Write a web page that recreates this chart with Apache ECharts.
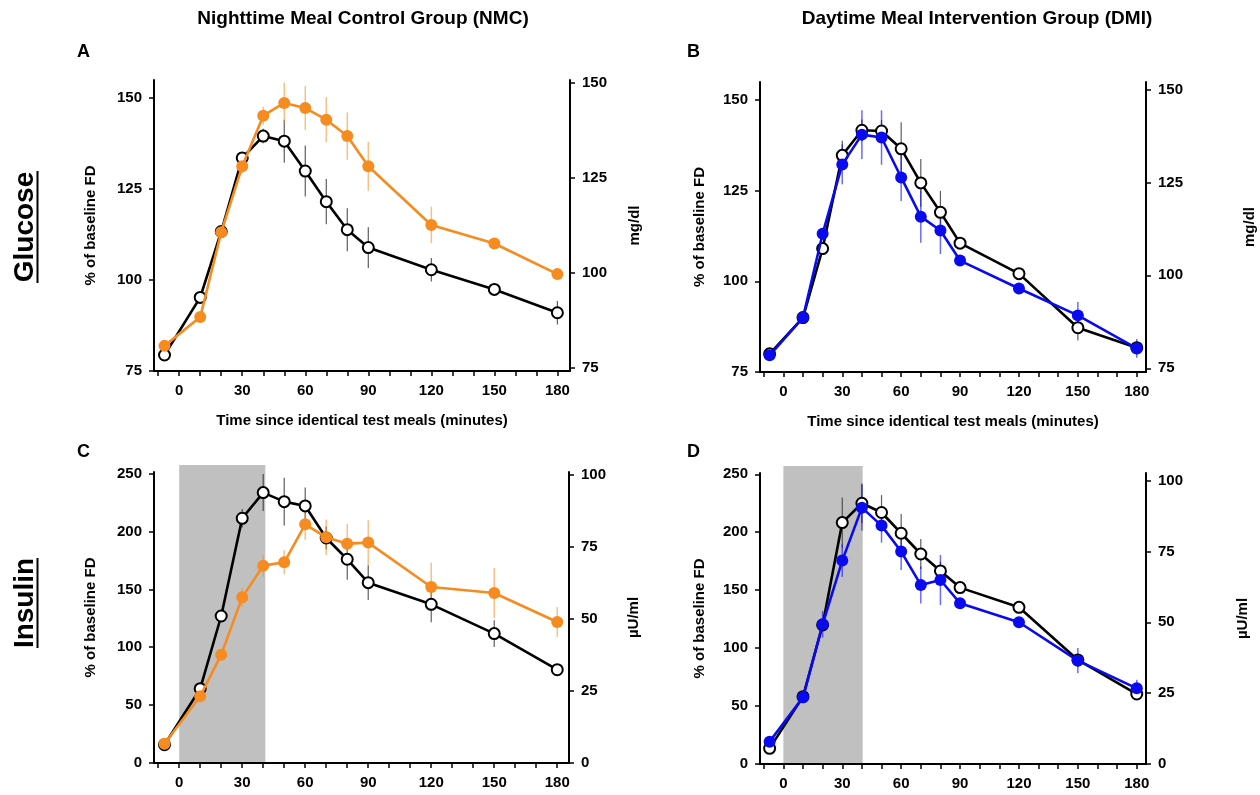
<!DOCTYPE html>
<html>
<head>
<meta charset="utf-8">
<title>Glucose and insulin responses</title>
<script src="https://cdn.jsdelivr.net/npm/echarts@6/dist/echarts.min.js"></script>
<style>
  html, body { margin: 0; padding: 0; background: #fff; }
  #chart { width: 1260px; height: 795px; }
</style>
</head>
<body>
<div id="chart"></div>
<script>
// Sampling times (minutes since the identical test meals)
const times = [-7, 10, 20, 30, 40, 50, 60, 70, 80, 90, 120, 150, 180];

// Axis tick values
const xTickValues = [-10, 0, 10, 20, 30, 40, 50, 60, 70, 80, 90, 100, 110, 120, 130, 140, 150, 160, 170, 180];
const xLabelValues = [0, 30, 60, 90, 120, 150, 180];
const glucosePctTicks = [75, 100, 125, 150];
const glucoseMgTicks = [75, 100, 125, 150];
const insulinPctTicks = [0, 50, 100, 150, 200, 250];
const insulinUTicks = [0, 25, 50, 75, 100];

// Panel A: glucose, nighttime meal control group (% of baseline FD)
const nmcGlucoseBlack = [79.4, 95.2, 113.3, 133.5, 139.5, 138.1, 129.9, 121.5, 113.8, 108.9, 102.8, 97.4, 91.0];
const nmcGlucoseBlackErr = [0.5, 1.5, 1.5, 1.5, 2.0, 5.9, 7.0, 6.2, 5.9, 5.6, 3.2, 1.2, 3.2];
const nmcGlucoseOrange = [81.9, 89.8, 113.1, 131.2, 145.1, 148.6, 147.2, 144.0, 139.5, 131.2, 115.1, 110.0, 101.6];
const nmcGlucoseOrangeErr = [0.5, 1.0, 1.5, 2.0, 2.5, 5.6, 6.0, 6.2, 6.5, 6.7, 5.0, 1.5, 1.7];

// Panel B: glucose, daytime meal intervention group
const dmiGlucoseBlack = [80.0, 90.0, 109.0, 134.7, 141.6, 141.4, 136.5, 127.1, 119.0, 110.5, 102.1, 87.2, 81.7];
const dmiGlucoseBlackErr = [0.5, 0.5, 1.0, 4.0, 3.0, 3.0, 7.3, 6.6, 5.9, 1.5, 1.5, 3.5, 1.5];
const dmiGlucoseBlue = [79.6, 90.0, 113.1, 132.2, 140.4, 139.6, 128.6, 117.8, 114.0, 105.7, 98.0, 90.6, 81.5];
const dmiGlucoseBlueErr = [0.5, 0.5, 1.5, 5.5, 6.7, 7.5, 6.5, 7.2, 6.5, 1.5, 1.5, 3.7, 2.6];

// Panel C: insulin, nighttime meal control group
const nmcInsulinBlack = [15.8, 64.2, 127.0, 211.4, 233.6, 225.8, 222.1, 194.4, 176.0, 155.8, 137.1, 111.8, 80.6];
const nmcInsulinBlackErr = [2, 4, 5, 8, 16, 20.6, 16, 10, 17.6, 15, 15.6, 11.5, 3];
const nmcInsulinOrange = [16.7, 57.6, 93.6, 143.1, 170.5, 173.4, 206.2, 195.0, 189.5, 190.4, 152.1, 146.9, 121.8];
const nmcInsulinOrangeErr = [2, 3, 5, 8, 9.4, 10.4, 13.3, 15.4, 17, 19.4, 21, 21.6, 13];

// Panel D: insulin, daytime meal intervention group
const dmiInsulinBlack = [13.5, 58.1, 120.0, 208.3, 225.0, 217.0, 199.1, 181.2, 166.6, 152.2, 135.2, 89.8, 60.4];
const dmiInsulinBlackErr = [2, 3, 5, 21.6, 17, 15, 16.7, 13, 8, 4, 4, 4, 3];
const dmiInsulinBlue = [19.3, 57.5, 120.5, 175.5, 221.2, 205.7, 183.3, 154.5, 158.8, 138.7, 122.3, 89.2, 65.3];
const dmiInsulinBlueErr = [3, 3, 11.5, 14, 20, 14.7, 16, 16, 21.6, 4, 3, 10.8, 7.5];

// Meal window shading (start, end in minutes)
const mealWindowNMC = [0, 41];
const mealWindowDMI = [0, 40.4];

const FONT = 'Arial, "Liberation Sans", sans-serif';
const ORANGE = '#F68B1F';
const BLUE = '#0A0AF0';

const chart = echarts.init(document.getElementById('chart'), null, { renderer: 'canvas' });

const panels = [
  { grid: { left: 154, top: 80, width: 416, height: 291 }, x: [-12, 186],
    yL: [75, 154.9], yR: [74.2, 150.8], ticksL: glucosePctTicks, ticksR: glucoseMgTicks,
    rightName: 'mg/dl', leftGap: 56, rightGap: 57, xName: true },
  { grid: { left: 760, top: 82, width: 386, height: 290 }, x: [-11.9, 184.7],
    yL: [75, 154.9], yR: [74.0, 152.0], ticksL: glucosePctTicks, ticksR: glucoseMgTicks,
    rightName: 'mg/dl', leftGap: 53, rightGap: 96, xName: true },
  { grid: { left: 154, top: 472, width: 415, height: 291 }, x: [-12, 185.6],
    yL: [0, 251.4], yR: [0, 101], ticksL: insulinPctTicks, ticksR: insulinUTicks,
    rightName: 'µU/ml', leftGap: 56, rightGap: 57, xName: false },
  { grid: { left: 760, top: 473, width: 386, height: 291 }, x: [-11.9, 184.7],
    yL: [0, 251.1], yR: [0, 102.7], ticksL: insulinPctTicks, ticksR: insulinUTicks,
    rightName: 'µU/ml', leftGap: 53, rightGap: 89, xName: false }
];

const labelStyle = { color: '#000', fontWeight: 'bold', fontSize: 15, fontFamily: FONT };
const nameStyle = { color: '#000', fontWeight: 'bold', fontSize: 15, fontFamily: FONT };

const grids = [], xAxes = [], yAxes = [], series = [];

panels.forEach((p, i) => {
  grids.push(Object.assign({ outerBoundsMode: 'none', containLabel: false }, p.grid));
  xAxes.push({
    type: 'value', gridIndex: i, min: p.x[0], max: p.x[1],
    axisLine: { show: true, onZero: false, lineStyle: { color: '#000', width: 2 } },
    axisTick: { show: true, length: 5, customValues: xTickValues, lineStyle: { color: '#000', width: 1.5 } },
    axisLabel: Object.assign({ customValues: xLabelValues, margin: 12 }, labelStyle),
    splitLine: { show: false },
    name: p.xName ? 'Time since identical test meals (minutes)' : '',
    nameLocation: 'middle', nameGap: 42, nameTextStyle: nameStyle
  });
  yAxes.push({
    type: 'value', gridIndex: i, position: 'left', min: p.yL[0], max: p.yL[1],
    axisLine: { show: true, onZero: false, lineStyle: { color: '#000', width: 2 } },
    axisTick: { show: true, length: 5, customValues: p.ticksL, lineStyle: { color: '#000', width: 1.5 } },
    axisLabel: Object.assign({ customValues: p.ticksL, margin: 12 }, labelStyle),
    splitLine: { show: false },
    name: '% of baseline FD', nameLocation: 'middle', nameGap: p.leftGap, nameTextStyle: nameStyle
  });
  yAxes.push({
    type: 'value', gridIndex: i, position: 'right', min: p.yR[0], max: p.yR[1],
    axisLine: { show: true, onZero: false, lineStyle: { color: '#000', width: 2 } },
    axisTick: { show: true, length: 5, customValues: p.ticksR, lineStyle: { color: '#000', width: 1.5 } },
    axisLabel: Object.assign({ customValues: p.ticksR, margin: 12 }, labelStyle),
    splitLine: { show: false },
    name: p.rightName, nameLocation: 'middle', nameGap: p.rightGap, nameTextStyle: nameStyle
  });
});

function pairs(vals) { return times.map((t, k) => [t, vals[k]]); }

function errorBars(panel, vals, errs, color, width, z) {
  return {
    type: 'custom', xAxisIndex: panel, yAxisIndex: panel * 2, z: z, silent: true,
    clip: false,
    encode: { x: 0, y: [1, 2] },
    data: times.map((t, k) => [t, vals[k] - errs[k], vals[k] + errs[k]]),
    renderItem: function (params, api) {
      const lo = api.coord([api.value(0), api.value(1)]);
      const hi = api.coord([api.value(0), api.value(2)]);
      return { type: 'line', shape: { x1: lo[0], y1: lo[1], x2: hi[0], y2: hi[1] },
               style: { stroke: color, lineWidth: width } };
    }
  };
}

function blackLine(panel, vals) {
  return {
    type: 'line', xAxisIndex: panel, yAxisIndex: panel * 2, z: 3,
    data: pairs(vals), symbol: 'circle', symbolSize: 11, showAllSymbol: true,
    lineStyle: { color: '#000', width: 2.6 },
    itemStyle: { color: '#fff', borderColor: '#000', borderWidth: 2 },
    emphasis: { disabled: true }
  };
}

function colorLine(panel, vals, color) {
  return {
    type: 'line', xAxisIndex: panel, yAxisIndex: panel * 2, z: 4,
    data: pairs(vals), symbol: 'circle', symbolSize: 12, showAllSymbol: true,
    lineStyle: { color: color, width: 2.6 },
    itemStyle: { color: color, borderColor: color, borderWidth: 0 },
    emphasis: { disabled: true }
  };
}

function mealShade(panel, win) {
  const top = panels[panel].yL[1] + 6;
  return {
    type: 'custom', xAxisIndex: panel, yAxisIndex: panel * 2, z: 0, silent: true,
    clip: false,
    encode: { x: [0, 1], y: 2 },
    data: [[win[0], win[1], top]],
    renderItem: function (params, api) {
      const p0 = api.coord([api.value(0), api.value(2)]);
      const p1 = api.coord([api.value(1), 0]);
      return { type: 'rect', shape: { x: p0[0], y: p0[1], width: p1[0] - p0[0], height: p1[1] - p0[1] },
               style: { fill: '#C0C0C0' } };
    }
  };
}

const blackErr = 'rgba(40,40,40,0.75)';
const orangeErr = 'rgba(246,139,31,0.55)';
const blueErr = 'rgba(10,10,240,0.6)';

series.push(
  // A
  errorBars(0, nmcGlucoseBlack, nmcGlucoseBlackErr, blackErr, 1.2, 1),
  errorBars(0, nmcGlucoseOrange, nmcGlucoseOrangeErr, orangeErr, 1.5, 1),
  blackLine(0, nmcGlucoseBlack),
  colorLine(0, nmcGlucoseOrange, ORANGE),
  // B
  errorBars(1, dmiGlucoseBlack, dmiGlucoseBlackErr, blackErr, 1.2, 1),
  errorBars(1, dmiGlucoseBlue, dmiGlucoseBlueErr, blueErr, 1.5, 1),
  blackLine(1, dmiGlucoseBlack),
  colorLine(1, dmiGlucoseBlue, BLUE),
  // C
  mealShade(2, mealWindowNMC),
  errorBars(2, nmcInsulinBlack, nmcInsulinBlackErr, blackErr, 1.2, 1),
  errorBars(2, nmcInsulinOrange, nmcInsulinOrangeErr, orangeErr, 1.5, 1),
  blackLine(2, nmcInsulinBlack),
  colorLine(2, nmcInsulinOrange, ORANGE),
  // D
  mealShade(3, mealWindowDMI),
  errorBars(3, dmiInsulinBlack, dmiInsulinBlackErr, blackErr, 1.2, 1),
  errorBars(3, dmiInsulinBlue, dmiInsulinBlueErr, blueErr, 1.5, 1),
  blackLine(3, dmiInsulinBlack),
  colorLine(3, dmiInsulinBlue, BLUE)
);

function plainText(text, x, y, size, align) {
  return { type: 'text', x: x, y: y, silent: true,
           style: { text: text, fill: '#000', font: 'bold ' + size + 'px ' + FONT,
                    align: align || 'center', verticalAlign: 'middle' } };
}

function rowLabel(text, x, y, halfLen) {
  return {
    type: 'group', x: x, y: y, rotation: Math.PI / 2, silent: true,
    children: [
      { type: 'text', style: { text: text, fill: '#000', font: 'bold 28px ' + FONT,
                               align: 'center', verticalAlign: 'middle' } },
      { type: 'line', shape: { x1: -halfLen, y1: 12.5, x2: halfLen, y2: 12.5 },
        style: { stroke: '#000', lineWidth: 2 } }
    ]
  };
}

chart.setOption({
  animation: false,
  backgroundColor: '#fff',
  grid: grids,
  xAxis: xAxes,
  yAxis: yAxes,
  series: series,
  graphic: [
    plainText('Nighttime Meal Control Group (NMC)', 363, 19, 19),
    plainText('Daytime Meal Intervention Group (DMI)', 977, 19, 19),
    plainText('A', 77, 52, 18, 'left'),
    plainText('B', 687, 52, 18, 'left'),
    plainText('C', 77, 452, 18, 'left'),
    plainText('D', 687, 452, 18, 'left'),
    rowLabel('Glucose', 25, 227, 56),
    rowLabel('Insulin', 25, 603, 45)
  ]
});
</script>
</body>
</html>
